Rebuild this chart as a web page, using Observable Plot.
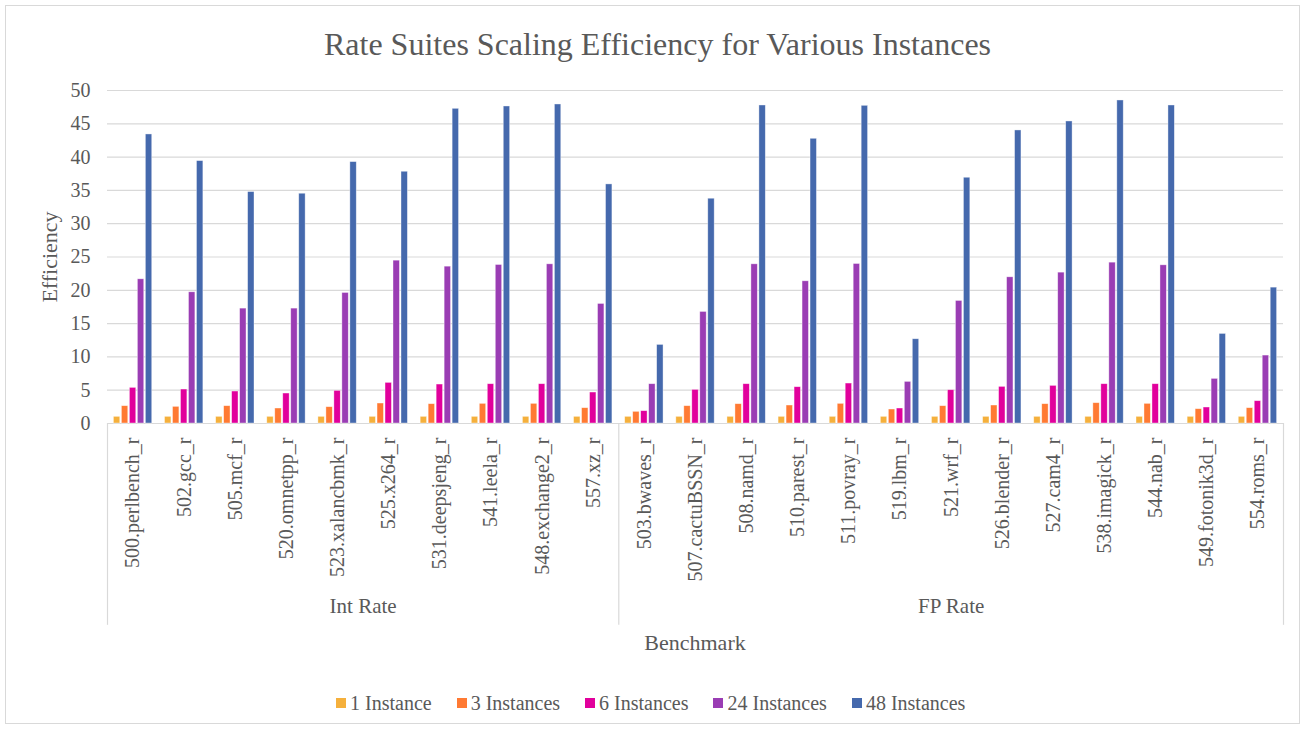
<!DOCTYPE html>
<html>
<head>
<meta charset="utf-8">
<script src="https://cdn.jsdelivr.net/npm/d3@7"></script>
<script src="https://cdn.jsdelivr.net/npm/@observablehq/plot@0.6"></script>
<style>
  body { margin: 0; background: #fff; }
  #chart { position: relative; width: 1307px; height: 731px; font-family: "Liberation Serif", "Times New Roman", serif; color: #595959; overflow: hidden; }
  #border { position: absolute; left: 5px; top: 5px; width: 1295px; height: 719px; border: 1px solid #D9D9D9; box-sizing: border-box; }
  #title { position: absolute; top: 24px; left: 4px; width: 1307px; text-align: center; font-size: 32px; line-height: 40px; }
  .layer { position: absolute; left: 0; top: 70px; }
  #ylabel { position: absolute; left: 50px; top: 257px; transform: translate(-50%, -50%) rotate(-90deg); font-size: 22px; white-space: nowrap; }
  #xlabel { position: absolute; left: 695px; top: 643px; transform: translate(-50%, -50%); font-size: 22px; white-space: nowrap; }
  #legend { position: absolute; left: 336px; top: 690px; display: flex; align-items: center; font-size: 20px; line-height: 26px; }
  #legend .item { display: flex; align-items: center; margin-right: 25px; }
  #legend .sw { width: 10px; height: 10px; margin-right: 4px; }
</style>
</head>
<body>
<div id="chart">
  <div id="border"></div>
  <div id="title">Rate Suites Scaling Efficiency for Various Instances</div>
  <div id="bg" class="layer"></div>
  <div id="fg" class="layer"></div>
  <div id="ylabel">Efficiency</div>
  <div id="xlabel">Benchmark</div>
  <div id="legend"></div>
</div>
<script>
// ---- data ----
const intBench = ["500.perlbench_r","502.gcc_r","505.mcf_r","520.omnetpp_r","523.xalancbmk_r","525.x264_r","531.deepsjeng_r","541.leela_r","548.exchange2_r","557.xz_r"];
const fpBench = ["503.bwaves_r","507.cactuBSSN_r","508.namd_r","510.parest_r","511.povray_r","519.lbm_r","521.wrf_r","526.blender_r","527.cam4_r","538.imagick_r","544.nab_r","549.fotonik3d_r","554.roms_r"];
const groupNames = ["Int Rate", "FP Rate"];
const seriesNames = ["1 Instance","3 Instances","6 Instances","24 Instances","48 Instances"];
const seriesColors = ["#F5B03C","#FF7A33","#E1009C","#9A3DB4","#4569AD"];
const yTicks = [0,5,10,15,20,25,30,35,40,45,50];

const inst1  = [1,1,1,1,1,1,1,1,1,1, 1,1,1,1,1,1,1,1,1,1,1,1,1];
const inst3  = [2.6,2.5,2.6,2.25,2.45,3.0,2.9,2.95,2.95,2.3, 1.75,2.6,2.9,2.7,2.95,2.1,2.6,2.7,2.9,3.05,2.95,2.15,2.3];
const inst6  = [5.35,5.1,4.8,4.5,4.9,6.1,5.85,5.9,5.9,4.65, 1.85,5.05,5.9,5.45,6.0,2.25,5.0,5.5,5.65,5.9,5.9,2.4,3.35];
const inst24 = [21.65,19.7,17.25,17.25,19.6,24.45,23.55,23.8,23.9,17.95, 5.9,16.75,23.9,21.35,23.95,6.25,18.4,21.95,22.65,24.15,23.75,6.7,10.2];
const inst48 = [43.4,39.4,34.75,34.5,39.25,37.8,47.25,47.6,47.9,35.9, 11.8,33.75,47.75,42.75,47.7,12.65,36.9,44.0,45.35,48.5,47.75,13.45,20.4];

// ---- build tables ----
const benches = intBench.concat(fpBench);
const seriesValues = [inst1, inst3, inst6, inst24, inst48];
const rows = [];
benches.forEach((b, i) => {
  seriesNames.forEach((s, j) => rows.push({bench: b, series: s, value: seriesValues[j][i]}));
});
const groups = [
  {name: groupNames[0], start: 0, end: intBench.length},
  {name: groupNames[1], start: intBench.length, end: benches.length}
];
const boundaries = [0, intBench.length, benches.length];

const W = 1307, H = 600, ML = 107, MR = 24, MT = 20, MB = 247;
const groupBandDepth = -30.3; // y value (below zero) where the group band ends
const font = {fontFamily: "Liberation Serif, Times New Roman, serif", fontSize: "20px", color: "#595959", background: "transparent"};

// ---- background: grid, y axis, category group band ----
const bg = Plot.plot({
  width: W, height: H, marginLeft: ML, marginRight: MR, marginTop: MT, marginBottom: MB,
  style: font,
  x: {type: "linear", domain: [0, benches.length], axis: null},
  y: {domain: [0, 50], ticks: yTicks, tickSize: 0, tickPadding: 17, label: null},
  marks: [
    Plot.ruleY(yTicks.filter(d => d > 0), {stroke: "#D9D9D9", strokeWidth: 1.2}),
    Plot.ruleY([0], {stroke: "#D9D9D9", strokeWidth: 1.2}),
    Plot.ruleX(boundaries, {y1: 0, y2: groupBandDepth, stroke: "#D9D9D9", strokeWidth: 1.2}),
    Plot.text(groups, {x: d => (d.start + d.end) / 2, text: "name", frameAnchor: "bottom", dy: 189, fontSize: 21, fill: "#595959"})
  ]
});
document.getElementById("bg").appendChild(bg);

// ---- foreground: faceted bars + category axis ----
const fg = Plot.plot({
  width: W, height: H, marginLeft: ML, marginRight: MR, marginTop: MT, marginBottom: MB,
  style: font,
  fx: {domain: benches, axis: "bottom", label: null, paddingInner: 0.25, paddingOuter: 0.125, round: false, tickRotate: -90, tickSize: 0, tickPadding: 14},
  x: {domain: seriesNames, axis: null, paddingInner: 0.2, paddingOuter: 0, round: false},
  y: {domain: [0, 50], axis: null},
  color: {domain: seriesNames, range: seriesColors},
  marks: [
    Plot.barY(rows, {fx: "bench", x: "series", y: "value", fill: "series", stroke: "white", strokeOpacity: 0.55, strokeWidth: 0.7})
  ]
});
document.getElementById("fg").appendChild(fg);

// ---- legend ----
const leg = document.getElementById("legend");
seriesNames.forEach((s, i) => {
  const item = document.createElement("div");
  item.className = "item";
  const sw = document.createElement("span");
  sw.className = "sw";
  sw.style.background = seriesColors[i];
  const t = document.createElement("span");
  t.textContent = s;
  item.appendChild(sw); item.appendChild(t);
  leg.appendChild(item);
});
</script>
</body>
</html>
